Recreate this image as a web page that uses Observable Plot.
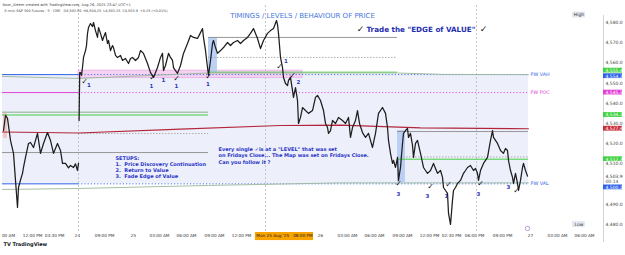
<!DOCTYPE html>
<html><head><meta charset="utf-8">
<script src="https://cdn.jsdelivr.net/npm/d3@7"></script>
<script src="https://cdn.jsdelivr.net/npm/@observablehq/plot@0.6"></script>
<style>
html,body{margin:0;padding:0;background:#fff;}
#chart svg{display:block;}
</style>
</head><body><div id="chart"></div>
<script>
// ---------- DATA ----------
// price path (bar position, close); null = session gap
const bars = [3,5,7,10,13,15,17,18,20,22,23,25,28,30,33,37,40,43,47,50,53,57,60,62,65,68,70,73,75,77,78,78.3,78.6,79.2,
80,81,82,83,85,86,87,88,90,92,93,95,97,98,100,102,103,105,107,108,110,112,113,115,117,120,122,125,128,130,132,135,138,140,
143,145,147,150,153,155,157,160,162,163,165,168,170,172,173,175,177,180,183,185,187,190,193,197,200,202,203,205,207,208,210,212,213,215,217,220,223,227,230,233,237,240,243,247,250,253,257,260,263,267,270,273,276,277,278,280,
282,283,285,287,288,290,292,293,295,297,298,300,302,305,308,312,315,317,320,323,325,327,328,330,332,335,338,342,345,348,350,352,355,357,359,362,365,368,372,375,378,382,385,387,388,390,392,393,395,397,398,400,402,403,405,407,408,410,412,413,415,417,420,
423,425,427,430,433,435,437,440,442,443,445,447,448,450,452,453,455,457,460,463,465,467,470,473,475,477,478,480,483,487,490,492,493,495,497,500,503,505,507,508,510,512,513,515,517,518,520,522,523,525,527];
const closes = [4526.5,4534.0,4532.5,4521.6,4515.2,4501.8,4488.4,4498.3,4502.0,4505.3,4508.2,4513.2,4520.1,4520.6,4518.1,4525.1,4515.2,4520.1,4525.5,4521.6,4515.2,4520.1,4516.6,4510.2,4510.2,4508.0,4509.2,4508.2,4510.0,4506.7,4510.2,null,4531.5,4555.2,
4555.2,4553.8,4557.7,4562.7,4566.1,4568.6,4574.6,4577.5,4579.5,4578.0,4580.0,4576.0,4572.6,4577.5,4574.6,4571.1,4572.6,4575.0,4569.6,4571.1,4566.1,4568.6,4567.6,4563.7,4562.7,4563.7,4561.2,4562.2,4559.7,4562.2,4562.7,4561.2,4562.7,4566.1,
4564.7,4562.2,4559.7,4555.2,4552.8,4555.2,4557.7,4562.7,4564.7,4556.2,4558.7,4564.7,4562.7,4561.2,4557.7,4556.2,4554.8,4558.7,4564.7,4567.1,4569.6,4573.6,4572.6,4572.1,4575.0,4577.0,4572.6,4566.1,4557.7,4553.8,4561.2,4569.6,4571.1,4567.6,4564.7,4566.1,4567.6,4570.1,4568.6,4570.1,4571.1,4569.6,4571.1,4572.6,4574.6,4577.0,4572.1,4567.1,4571.1,4574.6,4576.0,4577.0,4581.0,4579.0,4574.6,4562.7,
4557.7,4552.8,4549.8,4548.8,4551.3,4552.8,4546.3,4542.9,4547.8,4541.4,4530.0,4533.0,4537.9,4536.4,4535.0,4536.4,4542.9,4543.9,4541.4,4536.4,4530.0,4528.0,4525.1,4526.5,4531.5,4530.0,4533.0,4531.5,4530.0,4533.0,4523.1,4528.0,4531.5,4536.4,4530.0,4525.5,4523.1,4525.1,4518.1,4525.1,4535.0,4537.9,4535.0,4528.0,4521.6,4515.2,4510.2,4511.7,4508.2,4513.2,4501.8,4508.2,4520.1,4525.1,4526.5,4527.5,4523.1,4525.1,4519.1,4513.2,4520.1,4521.6,4515.2,
4508.2,4506.7,4505.3,4506.7,4510.2,4507.7,4505.3,4506.7,4503.3,4498.3,4496.8,4495.4,4485.5,4480.0,4491.9,4496.8,4498.3,4500.3,4501.8,4505.3,4506.7,4508.2,4509.2,4506.7,4507.7,4505.3,4501.8,4506.7,4510.2,4513.2,4521.6,4526.5,4523.1,4521.6,4520.1,4516.6,4515.2,4517.6,4516.6,4511.7,4506.7,4503.3,4500.3,4505.3,4500.3,4496.8,4501.8,4508.2,4510.2,4506.7,4503.9];

// previous-week value area levels
const pwVAH = 4554.2, pwPOC = 4545.3, pwVAL = 4500.1;
const levelNames = ["PW VAH", "PW POC", "PW VAL"];
const levelValues = [pwVAH, pwPOC, pwVAL];

// horizontal level segments: start bar, end bar, price, kind
const segStart = [2, 78, 2, 78, 2, 78, 2, 2, 2, 78, 208, 208, 208, 397, 397, 397];
const segEnd   = [78, 528, 78, 528, 78, 528, 208, 208, 208, 208, 397, 397, 397, 528, 528, 528];
const segPrice = [4554.2, 4554.2, 4545.3, 4545.3, 4500.1, 4500.1, 4535.6, 4534.2, 4515.6, 4525.0, 4572.6, 4562.7, 4555.4, 4526.0, 4513.4, 4512.3];
const segKind  = ["blue","blueDot","magenta","magentaDot","blue","blueDot","darkgreen","green","gray","grayDash","gray","grayDash","green","gray","grayDash","green"];

// slow-moving indicator lines
const redBars = [2, 40, 78, 180, 280, 340, 420, 528];
const redVals = [4525.8, 4525.5, 4525.3, 4527.2, 4529.0, 4529.2, 4527.8, 4527.4];
const sageTopBars = [2, 78, 208, 397, 443, 528];
const sageTopVals = [4553.3, 4552.3, 4555.0, 4555.0, 4554.3, 4554.2];
const sageLowBars = [2, 78, 208, 340, 528];
const sageLowVals = [4497.3, 4497.8, 4499.3, 4500.6, 4500.6];

// session separators
const sessionBars = [78, 265, 476];

// highlighted zones [x1, x2, low, high]
const pinkZone = [78, 302, 4552.4, 4556.2];
const redZone = [3, 7, 4522.6, 4535.0];
const blueZones = [[208, 217, 4555.2, 4572.6], [397, 405, 4500.8, 4526.5]];

// check marks and setup numbers
const checkBars = [84, 152, 176, 208, 279, 292, 398, 430, 448, 480, 516];
const checkVals = [4550.8, 4552.8, 4552.3, 4553.3, 4558.2, 4553.8, 4500.3, 4498.8, 4499.8, 4500.3, 4496.8];
const numBars = [88.5, 151, 163, 176, 207.5, 285.5, 298, 398, 427, 446, 478, 508];
const numVals = [4548.8, 4548.3, 4551.3, 4548.3, 4549.3, 4561.0, 4550.3, 4494.9, 4493.9, 4493.9, 4494.9, 4498.3];
const numTexts = ["1","1","1","1","1","1","2","3","3","1","3","3"];

// axis
const priceTicks = [4580, 4570, 4560, 4550, 4540, 4530, 4520, 4510, 4490];
const lowPrice = 4480.0;
const timeBars = [8, 32, 54, 77, 104, 133, 159, 186, 214, 241, 320, 347, 374, 402, 429, 451, 474, 502, 530, 557, 584];
const timeLabels = ["00 AM","12:00 PM","03:30 PM","24","09:00 PM","25","03:00 AM","06:00 AM","09:00 AM","12:00 PM","26","03:00 AM","06:00 AM","09:00 AM","12:00 PM","02:30 PM","06:00 PM","09:00 PM","27","03:00 AM","06:00 AM"];
const dayLabels = ["24","25","26","27"];
const cursorRange = [255, 313];
const cursorLabel = "Mon 25 Aug '25   08:00 PM";
const axisLabelPrices = [4555.4, 4554.2, 4545.3, 4534.2, 4527.4, 4512.3, 4500.1];
const axisLabelKinds = ["green","blue","magenta","green","red","green","blue"];
const lastPrice = 4503.9, lastTime = "00:14";

// ---------- BUILD ----------
const priceData = bars.map((b, i) => ({b, c: closes[i]}));
const segs = segStart.map((s, i) => ({x1: s, x2: segEnd[i], p: segPrice[i], kind: segKind[i]}));
const kindStyle = {
  blue: {stroke: "#2e62e8", w: 1},
  blueDot: {stroke: "#2e62e8", w: 0.9, dash: "1.2,2"},
  magenta: {stroke: "#e23fd6", w: 1},
  magentaDot: {stroke: "#e23fd6", w: 0.9, dash: "1.2,2"},
  green: {stroke: "#45d045", w: 1},
  darkgreen: {stroke: "#6f9c74", w: 0.8},
  gray: {stroke: "#8c8c8c", w: 0.9},
  grayDash: {stroke: "#9c9c9c", w: 0.8, dash: "1.5,1.5"}
};
const boxColor = {green: "#3fd23f", blue: "#2e62e8", magenta: "#e23fd6", red: "#c92d3b"};
const fmt = d3.format(",.1f");

// y px per price unit for label collision handling
const pxPer = 232 / (4590.9 - 4476);
const items = axisLabelPrices.map((p, i) => ({p, pos: p, half: 2.8 / pxPer, kind: axisLabelKinds[i], fixed: false}));
items.push({p: lastPrice, pos: lastPrice - 1.4, half: 5.6 / pxPer, kind: "last", fixed: true});
items.sort((a, b) => b.pos - a.pos);
for (let it = 0; it < 20; it++) {
  for (let i = 0; i < items.length - 1; i++) {
    const a = items[i], b = items[i + 1];
    const ov = (a.half + b.half) - (a.pos - b.pos);
    if (ov > 0) {
      if (a.fixed) b.pos -= ov;
      else if (b.fixed) a.pos += ov;
      else { a.pos += ov / 2; b.pos -= ov / 2; }
    }
  }
}
const boxes = items.filter(d => d.kind !== "last");
const lastItem = items.find(d => d.kind === "last");

const SANS = "DejaVu Sans";
const small = 4.5;
const tsmall = 4.2;

const marks = [
  Plot.rect([0], {x1: 2, x2: 528, y1: pwVAL, y2: pwVAH, fill: "#edf0fb"}),
  Plot.ruleX(sessionBars, {y1: 4588.4, y2: 4476, stroke: "#b9b9b9", strokeWidth: 0.8, strokeDasharray: "2,2"}),
  Plot.rect([pinkZone], {x1: d => d[0], x2: d => d[1], y1: d => d[2], y2: d => d[3], fill: "#f5d2f1", stroke: "#e7a2e1", strokeWidth: 0.6}),
  Plot.rect([redZone], {x1: d => d[0], x2: d => d[1], y1: d => d[2], y2: d => d[3], fill: "#f1c7c9"}),
  Plot.rect(blueZones, {x1: d => d[0], x2: d => d[1], y1: d => d[2], y2: d => d[3], fill: "#b1c9f3", fillOpacity: 0.85}),
];
for (const k of Object.keys(kindStyle)) {
  const s = kindStyle[k];
  marks.push(Plot.ruleY(segs.filter(d => d.kind === k), {y: "p", x1: "x1", x2: "x2", stroke: s.stroke, strokeWidth: s.w, strokeDasharray: s.dash}));
}
marks.push(
  Plot.line(redBars.map((b, i) => ({b, v: redVals[i]})), {x: "b", y: "v", stroke: "#b3263a", strokeWidth: 1.1}),
  Plot.line(sageTopBars.map((b, i) => ({b, v: sageTopVals[i]})), {x: "b", y: "v", stroke: "#9bb59b", strokeWidth: 0.9}),
  Plot.line(sageLowBars.map((b, i) => ({b, v: sageLowVals[i]})), {x: "b", y: "v", stroke: "#9bb59b", strokeWidth: 0.9}),
  Plot.line(priceData, {x: "b", y: "c", stroke: "#1e1e1e", strokeWidth: 1.25, curve: "linear"}),
  // check marks and numbers
  Plot.text(checkBars.map((b, i) => ({b, v: checkVals[i]})), {x: "b", y: "v", text: () => "✓", fontSize: 8, fill: "#111", fontFamily: SANS}),
  Plot.text(numBars.map((b, i) => ({b, v: numVals[i], t: numTexts[i]})), {x: "b", y: "v", text: "t", fontSize: 5.5, fontWeight: "bold", fill: "#3036b8", fontFamily: SANS}),
  // annotations
  Plot.text(["TIMINGS / LEVELS / BEHAVIOUR OF PRICE"], {x: 302, y: 4583.5, text: d => d, fontSize: 7, fill: "#4677dc", fontFamily: SANS}),
  Plot.text(["✓"], {x: 360, y: 4576.5, text: d => d, fontSize: 9, fill: "#222", fontFamily: SANS}),
  Plot.text(["Trade the \"EDGE of VALUE\""], {x: 366, y: 4576.5, text: d => d, textAnchor: "start", fontSize: 7.2, fontWeight: "bold", fill: "#1f2fb3", fontFamily: SANS}),
  Plot.text(["✓"], {x: 483, y: 4576.5, text: d => d, fontSize: 9, fill: "#222", fontFamily: SANS}),
  Plot.text(["SETUPS:\n1.  Price Discovery Continuation\n2.  Return to Value\n3.  Fade Edge of Value"], {x: 115, y: 4508.5, text: d => d, textAnchor: "start", lineHeight: 1.25, fontSize: 5, fontWeight: "bold", fill: "#2c36c6", fontFamily: SANS}),
  Plot.text(["Every single ✓is at a \"LEVEL\" that was set\non Fridays Close... The Map was set on Fridays Close.\nCan you follow it ?"], {x: 218, y: 4514.4, text: d => d, textAnchor: "start", lineHeight: 1.3, fontSize: 5, fontWeight: "bold", fill: "#2c36c6", fontFamily: SANS}),
  // level names
  Plot.text(levelNames.map((n, i) => ({n, v: levelValues[i]})), {x: 530, y: "v", text: "n", textAnchor: "start", fontSize: 4.8, fill: d => d.n === "PW POC" ? "#e23fd6" : "#2e62e8", fontFamily: SANS}),
  Plot.dot([0], {x: 527, y: 4478, r: 2.2, stroke: "#a883c9", strokeWidth: 0.8, fill: "none"}),
  // price axis
  Plot.ruleX([603], {y1: 4583.5, y2: 4471, stroke: "#c9c9c9", strokeWidth: 0.8}),
  Plot.text(priceTicks, {x: 605, y: d => d, text: d => fmt(d), textAnchor: "start", fontSize: small, fill: "#444", fontFamily: SANS}),
  Plot.rect(boxes, {x1: 603, x2: 622, y1: d => d.pos - d.half * 0.85, y2: d => d.pos + d.half * 0.85, fill: d => boxColor[d.kind]}),
  Plot.text(boxes, {x: 605, y: "pos", text: d => fmt(d.p), textAnchor: "start", fontSize: small, fill: "#fff", fontFamily: SANS}),
  Plot.text([lastItem], {x: 605, y: d => d.pos + 1.2, text: () => fmt(lastPrice), textAnchor: "start", fontSize: small, fill: "#333", fontFamily: SANS}),
  Plot.text([lastItem], {x: 605, y: d => d.pos - 1.5, text: () => lastTime, textAnchor: "start", fontSize: small, fill: "#555", fontFamily: SANS}),
  Plot.rect([0], {x1: 572, x2: 585, y1: 4582.2, y2: 4585.2, fill: "#e4e8f0"}),
  Plot.text(["High"], {x: 578.5, y: 4583.7, text: d => d, fontSize: small, fill: "#333", fontFamily: SANS}),
  Plot.rect([0], {x1: 572, x2: 585, y1: lowPrice - 1.5, y2: lowPrice + 1.5, fill: "#e4e8f0"}),
  Plot.text(["Low"], {x: 578.5, y: lowPrice, text: d => d, fontSize: small, fill: "#333", fontFamily: SANS}),
  Plot.text([lowPrice], {x: 605, y: d => d, text: d => fmt(d), textAnchor: "start", fontSize: small, fill: "#444", fontFamily: SANS}),
  // time axis
  Plot.text(timeBars.map((b, i) => ({b, t: timeLabels[i]})), {x: "b", frameAnchor: "bottom", dy: 4.5, text: "t", fontSize: tsmall, fontWeight: d => dayLabels.includes(d.t) ? "bold" : "normal", fill: "#333", fontFamily: SANS}),
  Plot.rect([cursorRange], {x1: d => d[0], x2: d => d[1], y1: 4476, y2: 4472, fill: "#f7a300"}),
  Plot.text([cursorLabel], {x: (cursorRange[0] + cursorRange[1]) / 2, frameAnchor: "bottom", dy: 4.5, text: d => d, fontSize: tsmall, fill: "#222", fontFamily: SANS}),
  // header and logo
  Plot.text(["Noor_Aleem created with TradingView.com, Aug 26, 2025 23:47 UTC+1"], {frameAnchor: "top-left", dx: 2, dy: 3, text: d => d, textAnchor: "start", fontSize: 3.6, fill: "#444", fontFamily: SANS}),
  Plot.text(["E-mini S&P 500 Futures · 5 · CME   O4,503.50  H4,504.25  L4,503.25  C4,503.9  +0.25 (+0.01%)"], {frameAnchor: "top-left", dx: 4, dy: 9, text: d => d, textAnchor: "start", fontSize: 3.4, fill: "#444", fontFamily: SANS}),
  Plot.text(["TV TradingView"], {frameAnchor: "bottom-left", dx: 3, dy: 13, text: d => d, textAnchor: "start", fontSize: 5, fontWeight: "bold", fill: "#131722", fontFamily: SANS})
);

const chart = Plot.plot({
  width: 625, height: 255,
  marginTop: 0, marginBottom: 23, marginLeft: 0, marginRight: 22,
  x: {domain: [0, 603], axis: null},
  y: {domain: [4476, 4590.9], axis: null},
  style: {background: "#fff", fontFamily: SANS, overflow: "visible"},
  marks
});
document.getElementById("chart").appendChild(chart);
</script>
</body></html>
